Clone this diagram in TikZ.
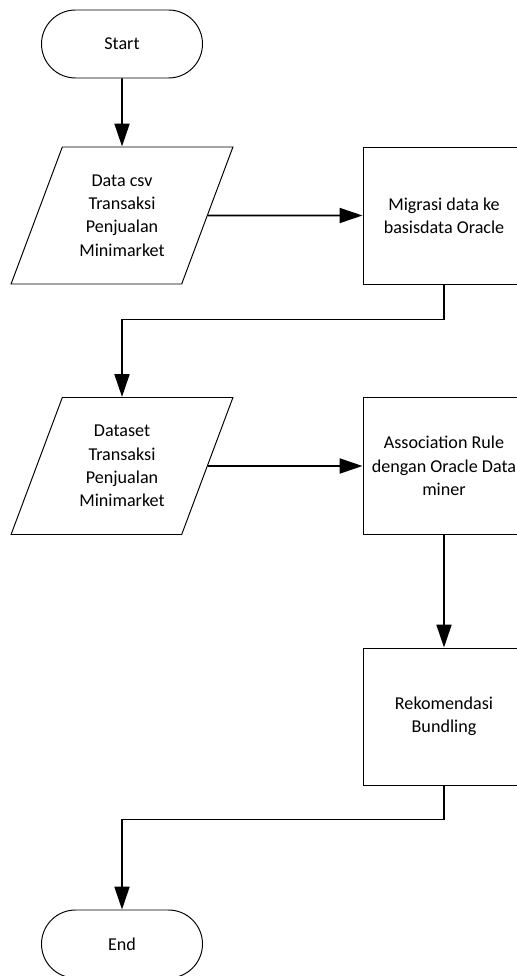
\documentclass[tikz,border=0pt]{standalone}
\usepackage{fontspec}
\setmainfont{Carlito}
\usepackage{tikz}
\usetikzlibrary{shapes.geometric, arrows.meta}

\tikzset{
  startstop/.style={draw, line width=0.55pt, rectangle, rounded corners=0.68cm,
    minimum width=3.22cm, minimum height=1.36cm},
  io/.style={draw, line width=0.55pt, trapezium, trapezium left angle=66,
    trapezium right angle=114, trapezium stretches=true,
    minimum width=4.44cm, minimum height=2.74cm, align=center},
  process/.style={draw, line width=0.55pt, rectangle,
    minimum width=3.24cm, minimum height=2.74cm, align=center},
  flowline/.style={line width=1.1pt, -{Triangle[length=13pt,width=8.5pt]}}
}

\begin{document}
\begin{tikzpicture}[font=\fontsize{10.3pt}{13.3pt}\selectfont]
\useasboundingbox (0,0) rectangle (10.34,-19.52);
\clip (0,0) rectangle (10.34,-19.52);
%% nodes
\node[startstop] (start) at (2.44,-0.88) {Start};
\node[io] (csv) at (2.44,-4.31) {Data csv\\Transaksi\\Penjualan\\Minimarket};
\node[process] (migrasi) at (8.88,-4.31) {Migrasi data ke\\basisdata Oracle};
\node[io] (dataset) at (2.44,-9.32) {Dataset\\Transaksi\\Penjualan\\Minimarket};
\node[process] (assoc) at (8.88,-9.32) {Association Rule\\dengan Oracle Data\\miner};
\node[process] (rekom) at (8.88,-14.33) {Rekomendasi\\Bundling};
\node[startstop] (finish) at (2.44,-18.88) {End};
%% lines
\draw[flowline] (start) -- (csv);
\draw[flowline] (csv.east) -- (migrasi.west);
\draw[flowline] (migrasi.south) -- ++(0,-0.7) -| (dataset.north);
\draw[flowline] (dataset.east) -- (assoc.west);
\draw[flowline] (assoc) -- (rekom);
\draw[flowline] (rekom.south) -- ++(0,-0.68) -| (finish.north);
\end{tikzpicture}
\end{document}
